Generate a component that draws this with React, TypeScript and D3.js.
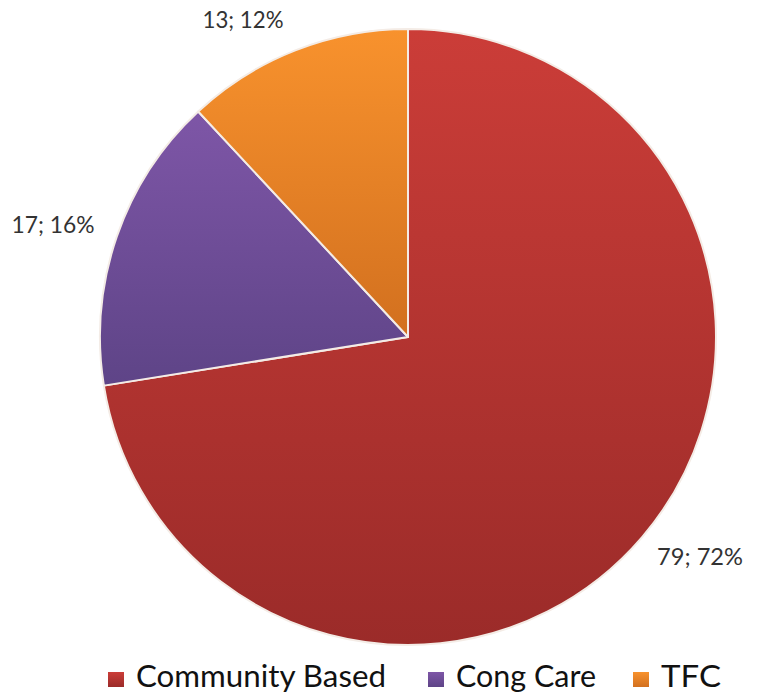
import React from "react";
import * as d3 from "d3";

const categories = ["Community Based", "Cong Care", "TFC"];
const values = [79, 17, 13];
const percents = [72, 16, 12];
const colorsTop = ["#cb3d38", "#7e56a7", "#f8922d"];
const colorsBottom = ["#9b2b29", "#5e4487", "#d2701f"];

const W = 762;
const H = 698;
const cx = 408;
const cy = 337;
const R = 308;

const labelPos: [number, number][] = [
  [700, 565],
  [53, 233],
  [243, 28],
];
const labelWidths = [86, 83, 81];

const legendX = [108, 428, 633];
const legendTextWidths = [250, 140, 60];

export default function App() {
  const pie = d3.pie<number>().sort(null).value((d) => d)(values);
  const arc = d3.arc<d3.PieArcDatum<number>>().innerRadius(0).outerRadius(R);
  return (
    <svg width={W} height={H} style={{ position: "absolute", left: 0, top: 0 }}>
      <defs>
        {categories.map((c, i) => (
          <linearGradient key={c} id={`g${i}`} x1="0" y1="0" x2="0" y2="1">
            <stop offset="0%" stopColor={colorsTop[i]} />
            <stop offset="100%" stopColor={colorsBottom[i]} />
          </linearGradient>
        ))}
      </defs>
      <rect width={W} height={H} fill="#fff" />
      <g transform={`translate(${cx},${cy})`}>
        {pie.map((p, i) => (
          <path key={i} d={arc(p) || ""} fill={`url(#g${i})`} stroke="#f4ece6" strokeWidth={2} strokeLinejoin="round" />
        ))}
      </g>
      {pie.map((p, i) => (
        <text
          key={"l" + i}
          x={labelPos[i][0]}
          y={labelPos[i][1]}
          textAnchor="middle"
          fontFamily="Lato, 'Open Sans', sans-serif"
          fontSize={23}
          fill="#333"
          textLength={labelWidths[i]}
          lengthAdjust="spacingAndGlyphs"
        >
          {`${values[i]}; ${percents[i]}%`}
        </text>
      ))}
      {categories.map((c, i) => (
        <g key={"lg" + i}>
          <rect x={legendX[i]} y={672} width={16} height={15} fill={`url(#g${i})`} />
          <text
            x={legendX[i] + 28}
            y={687}
            fontFamily="Lato, 'Open Sans', sans-serif"
            fontSize={31}
            fill="#111"
            textLength={legendTextWidths[i]}
            lengthAdjust="spacingAndGlyphs"
          >
            {c}
          </text>
        </g>
      ))}
    </svg>
  );
}
